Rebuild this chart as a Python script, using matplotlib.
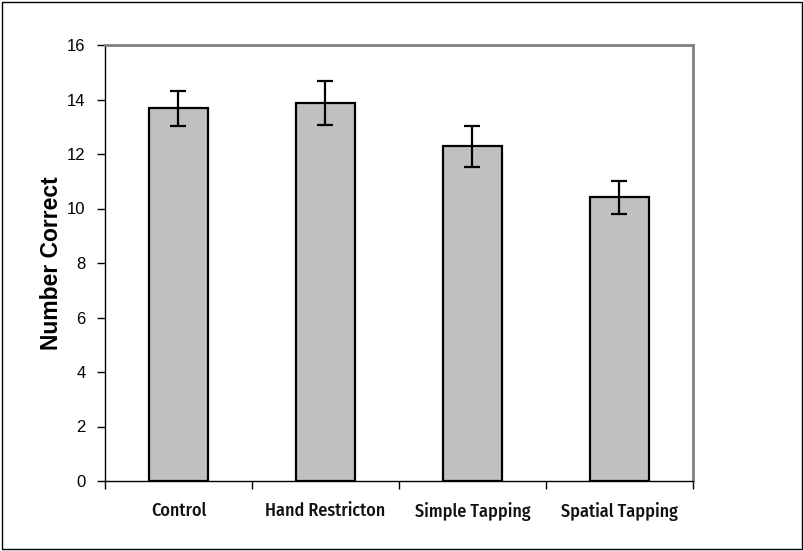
import matplotlib
matplotlib.use("Agg")
import matplotlib.pyplot as plt
from matplotlib.patches import Rectangle

categories = ["Control", "Hand Restricton", "Simple Tapping", "Spatial Tapping"]
means = [13.67, 13.88, 12.29, 10.41]
errors = [0.65, 0.80, 0.75, 0.61]
yticks = [0, 2, 4, 6, 8, 10, 12, 14, 16]

fig = plt.figure(figsize=(8.04, 5.51), dpi=100)
ax = fig.add_axes([105/804, 1-481/551, (693-105)/804, (481-45)/551])

x = list(range(len(categories)))
ax.bar(x, means, width=0.4, color="#C0C0C0", edgecolor="black", linewidth=1.6, zorder=2)
ax.errorbar(x, means, yerr=errors, fmt="none", ecolor="black", elinewidth=1.6,
            capsize=5.5, capthick=1.6, zorder=3)

ax.set_xlim(-0.5, len(categories)-0.5)
ax.set_ylim(0, 16)
ax.set_yticks(yticks)
ax.set_yticklabels([str(t) for t in yticks], family="Liberation Sans", fontsize=12)
ax.set_xticks([i - 0.5 for i in range(len(categories)+1)])
ax.set_xticklabels([])
ax.set_xticks(x, minor=True)
ax.set_xticklabels(categories, minor=True, family=["Fira Sans Condensed", "PT Sans Narrow"],
                   fontweight="medium", fontsize=13, color="#111111")
ax.tick_params(axis="x", which="minor", length=0, pad=15)
ax.tick_params(axis="x", which="major", direction="out", length=6, width=1)
ax.tick_params(axis="y", direction="out", length=6, width=1, pad=8)

for s in ["top", "right"]:
    ax.spines[s].set_color("#808080")
    ax.spines[s].set_linewidth(2)
for s in ["left", "bottom"]:
    ax.spines[s].set_color("black")
    ax.spines[s].set_linewidth(1)

ax.set_ylabel("Number Correct", family="Liberation Sans", fontweight="bold", fontsize=16.5, labelpad=3)

fig.patches.append(Rectangle((0.002, 0.003), 0.995, 0.994, transform=fig.transFigure,
                             fill=False, edgecolor="black", linewidth=1))

fig.savefig("out.png", dpi=100)
